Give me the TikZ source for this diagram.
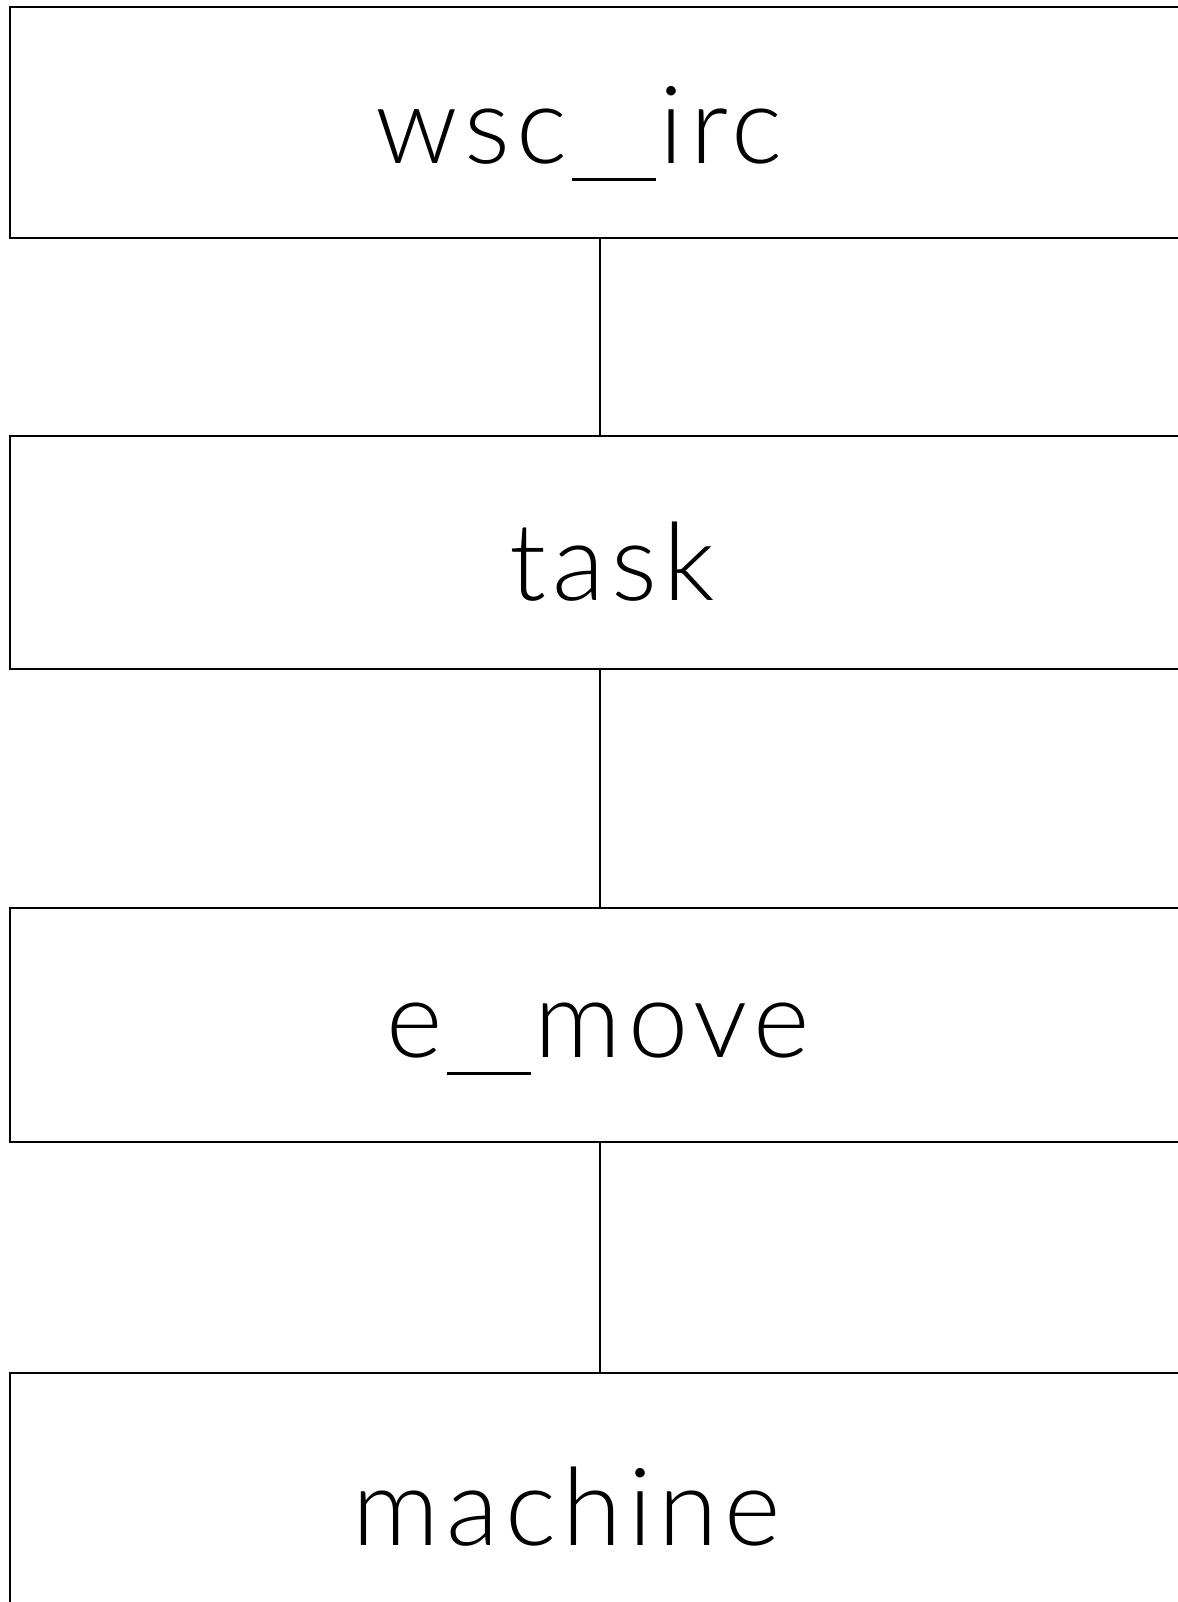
\documentclass[tikz,border=0pt]{standalone}
\usepackage{fontspec}
\IfFontExistsTF{Lato Light}{\newfontfamily\lblfont{Lato Light}[LetterSpace=6]}{\newfontfamily\lblfont{Lato}[LetterSpace=6]}
\newcommand{\usc}{\hspace{2pt}\rule[-9pt]{42pt}{1.3pt}\hspace{2pt}}

\begin{document}
\begin{tikzpicture}[x=0.5pt, y=-0.5pt, line width=1.3pt,
    box/.style={draw, rectangle, inner sep=0pt, minimum width=590pt},
    lbl/.style={anchor=base, inner sep=0pt, font=\lblfont\fontsize{54}{54}\selectfont}]
  % frame
  \path[use as bounding box, clip] (0,0) rectangle (1178,1602);

  % boxes
  \node[box, minimum height=115.5pt] (wsc) at (600,122.5) {};
  \node[box, minimum height=116.5pt] (task) at (600,552.5) {};
  \node[box, minimum height=117pt] (emove) at (600,1025) {};
  \node[box, minimum height=116pt] (machine) at (600,1489) {};

  % labels
  \node[lbl] (wsclbl) at (579,163) {wsc\usc irc};
  \node[lbl] (tasklbl) at (612,600) {task};
  \node[lbl] (emovelbl) at (598,1057) {e\usc move};
  \node[lbl] (machinelbl) at (567,1545) {machine};

  % links
  \draw (wsc.south) -- (task.north);
  \draw (task.south) -- (emove.north);
  \draw (emove.south) -- (machine.north);
\end{tikzpicture}
\end{document}
